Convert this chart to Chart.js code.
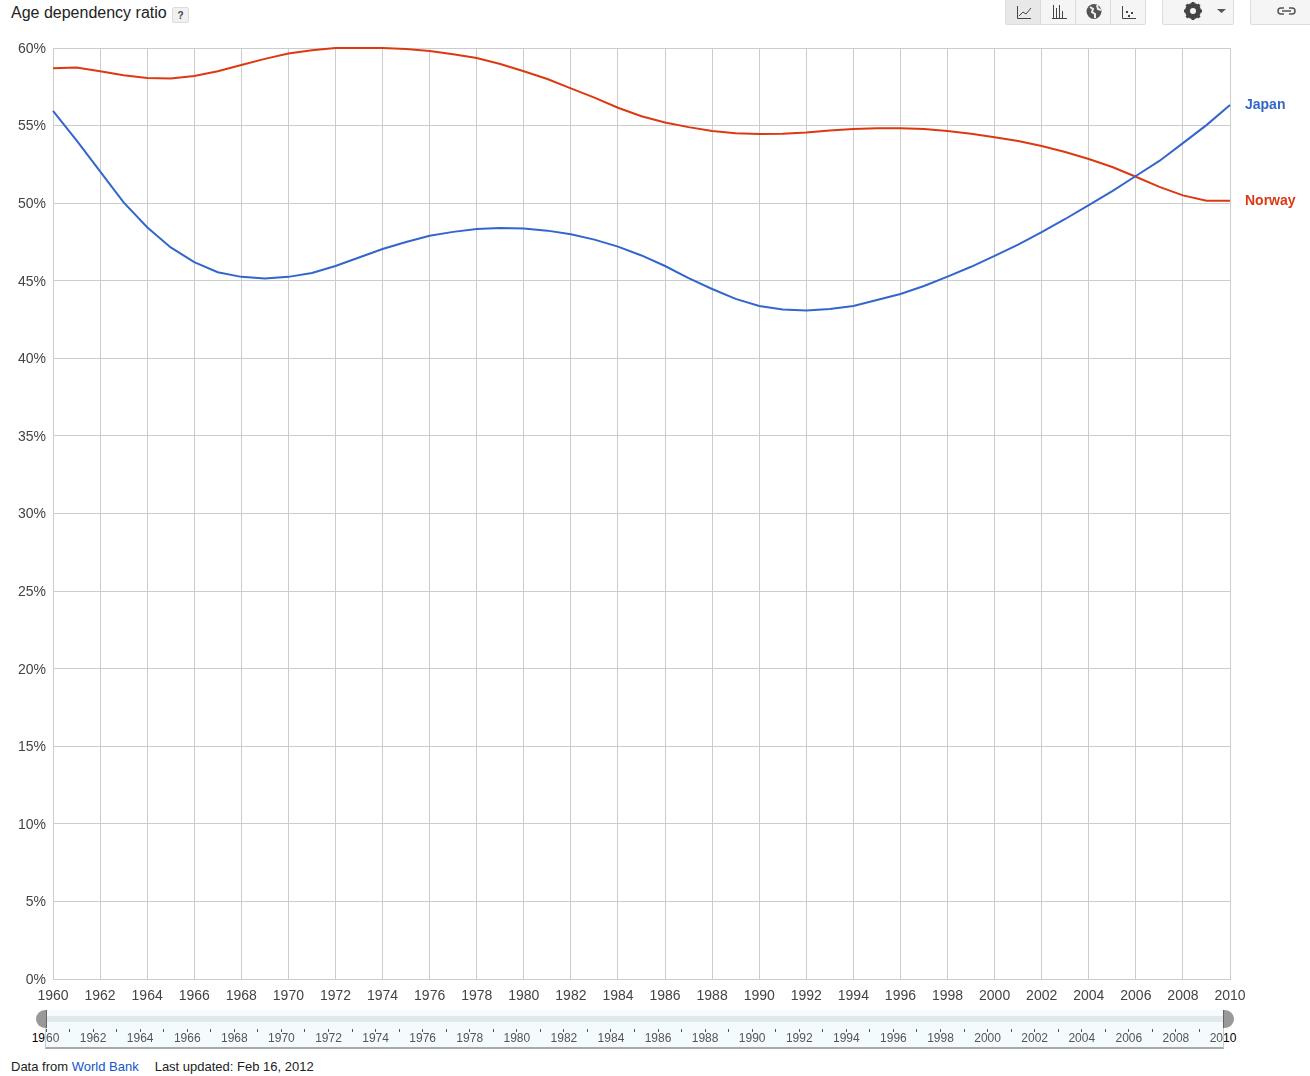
<!DOCTYPE html>
<html>
<head>
<meta charset="utf-8">
<title>Age dependency ratio</title>
<script src="https://cdn.jsdelivr.net/npm/chart.js@4"></script>
<style>
html, body { margin: 0; padding: 0; background: #fff; overflow: hidden; }
body { width: 1310px; height: 1076px; position: relative; font-family: "Liberation Sans", Arial, sans-serif; }
canvas { position: absolute; display: block; }
.abs { position: absolute; white-space: nowrap; }
#title { left: 11px; top: 3px; font-size: 16px; line-height: 19px; color: #222; }
#help { left: 172px; top: 7px; width: 15px; height: 14px; border: 1px solid #dcdcdc; border-radius: 2px; background: #f1f1f1;
	font-size: 10px; font-weight: bold; line-height: 15px; text-align: center; color: #444; }
.btn { position: absolute; top: -1px; height: 24px; background: #f5f5f5; border: 1px solid #dcdcdc; border-radius: 0 0 2px 2px; box-sizing: content-box; }
.btn svg { position: absolute; left: 0; top: 0; }
#footer { left: 11px; top: 1059px; font-size: 13px; line-height: 15px; color: #222; }
#footer a { color: #15c; text-decoration: none; }
#footer .gap { margin-left: 16px; }
#slider_bg { left: 46px; top: 1010px; width: 1177px; height: 37px; background: #f3fbfd; border-bottom: 2px solid #aaa; border-left: 1px solid #ccc; border-right: 1px solid #ccc; box-sizing: content-box; margin-left: -1px; }
#slider_band { left: 46px; top: 1016px; width: 1177px; height: 6px; background: #e0e8ea; }
.handle { position: absolute; top: 1010px; width: 10px; height: 18px; background: #999; }
#handle_l { left: 36px; border-radius: 9px 0 0 9px; border-right: 1px solid #666; }
#handle_r { left: 1223px; border-radius: 0 9px 9px 0; border-left: 1px solid #666; }
.edge { top: 1031px; font-size: 12px; line-height: 14px; color: #000; width: 40px; text-align: center; }
</style>
</head>
<body>
<div id="title" class="abs">Age dependency ratio</div>
<div id="help" class="abs">?</div>

<div class="btn" style="left:1005px;width:139px;">
	<div style="position:absolute;left:0;top:0;width:34px;height:24px;background:#e8e8e8;border-right:1px solid #dcdcdc;"></div>
	<div style="position:absolute;left:69px;top:0;width:1px;height:24px;background:#dcdcdc;"></div>
	<div style="position:absolute;left:104px;top:0;width:1px;height:24px;background:#dcdcdc;"></div>
	<svg width="139" height="24" fill="none" stroke="#444" stroke-width="1">
		<path d="M11.5 6v12.5H25M13 16l4-4 3 2 5-6"/>
		<path d="M47.5 5v13M50.5 8v10M53.500 5v13M56.500 11v7M46 18.500h15"/>
		<circle cx="88" cy="11.500" r="7.500" fill="#555" stroke="none"/>
		<path d="M84 7l3 2-1 3 3 2 0 4M91 5l1 4 3 1" stroke="#eee" stroke-width="2"/>
		<path d="M116.500 6v12.500H130"/>
		<path d="M120 11h2v2h-2zM125 12h2v2h-2zM122 15h2v2h-2z" fill="#444" stroke="none"/>
	</svg>
</div>
<div class="btn" style="left:1162px;width:70px;">
	<svg width="70" height="24">
		<circle cx="30" cy="11" r="6" fill="none" stroke="#444" stroke-width="4"/>
		<path d="M30 2v18M21 11h18M23.500 4.500l13 13M36.500 4.500l-13 13" stroke="#444" stroke-width="3"/>
		<circle cx="30" cy="11" r="3" fill="#f5f5f5"/>
		<path d="M54 9h9l-4.500 4z" fill="#555"/>
	</svg>
</div>
<div class="btn" style="left:1250px;width:62px;">
	<svg width="62" height="24" fill="none" stroke="#555" stroke-width="1.500">
		<path d="M33 8h-3a3 3 0 0 0 0 6h3M38 8h3a3 3 0 0 1 0 6h-3M31 11h9"/>
	</svg>
</div>

<canvas id="chart1" width="1310" height="1005" style="left:0;top:0;"></canvas>

<div id="edge_l" class="abs edge" style="left:25px;">1960</div>
<div id="edge_r" class="abs edge" style="left:1203px;">2010</div>
<div id="slider_bg" class="abs"></div>
<div id="slider_band" class="abs"></div>
<canvas id="chart2" width="1310" height="30" style="left:0;top:1025px;clip-path:inset(0 87px 0 46px);"></canvas>
<div id="handle_l" class="handle"></div>
<div id="handle_r" class="handle"></div>

<div id="footer" class="abs">Data from <a href="#">World Bank</a><span class="gap">Last updated: Feb 16, 2012</span></div>

<script>
const years = [];
for(let y=1960; y<=2010; y++) years.push(y);

// values, one per year from 1960 to 2010
const japan_values = [
	55.95, 54.05, 52.05, 50.05, 48.45, 47.15, 46.2, 45.55, 45.25, 45.15,
	45.25, 45.5, 45.95, 46.5, 47.05, 47.5, 47.9, 48.15, 48.33, 48.4,
	48.37, 48.23, 48.0, 47.65, 47.2, 46.63, 45.95, 45.17, 44.47, 43.83,
	43.37, 43.15, 43.08, 43.18, 43.37, 43.76, 44.15, 44.66, 45.27, 45.9,
	46.6, 47.33, 48.14, 48.98, 49.88, 50.78, 51.75, 52.72, 53.87, 55.03,
	56.33
];
const norway_values = [
	58.7, 58.75, 58.5, 58.25, 58.07, 58.03, 58.2, 58.5, 58.9, 59.3,
	59.65, 59.85, 60.0, 60.0, 60.0, 59.93, 59.8, 59.6, 59.35, 58.97,
	58.5, 58.0, 57.4, 56.8, 56.15, 55.6, 55.2, 54.9, 54.65, 54.5,
	54.45, 54.47, 54.55, 54.68, 54.78, 54.83, 54.83, 54.78, 54.65, 54.47,
	54.25, 54.0, 53.68, 53.3, 52.85, 52.33, 51.7, 51.05, 50.5, 50.15,
	50.15
];
const series_names = ['Japan', 'Norway'];
const series_colors = ['#3366cc', '#dc3912'];

function to_points(values) {
	return values.map(function(v, i) { return {x: years[i], y: v}; });
}

// names at the right end of each line
const end_labels = {
	id: 'end_labels',
	afterDatasetsDraw: function(chart) {
		const ctx = chart.ctx;
		ctx.save();
		ctx.font = 'bold 14px "Liberation Sans"';
		ctx.textBaseline = 'middle';
		chart.data.datasets.forEach(function(ds) {
			const last = ds.data[ds.data.length-1];
			ctx.fillStyle = ds.borderColor;
			ctx.fillText(ds.label, chart.chartArea.right + 15, chart.scales.y.getPixelForValue(last.y));
		});
		ctx.restore();
	}
};

// y tick labels sit 1px lower than the gridline centre
const nudge_y_labels = {
	id: 'nudge_y_labels',
	afterLayout: function(chart) {
		chart.scales.y.getLabelItems(chart.chartArea).forEach(function(item) {
			item.options.translation[1] += 1;
		});
	}
};

const myChart = new Chart('chart1', {
	type: 'line',
	data: {
		datasets: [
		{
			label: series_names[0],
			data: to_points(japan_values),
			borderColor: series_colors[0],
			borderWidth: 2,
			fill: false,
			clip: false
		},
		{
			label: series_names[1],
			data: to_points(norway_values),
			borderColor: series_colors[1],
			borderWidth: 2,
			fill: false,
			clip: false
		}]
	},
	options: {
		responsive: false,
		animation: false,
		elements: { point: { radius: 0 } },
		layout: { padding: { top: 48, right: 80, left: 0, bottom: 0 } },
		scales: {
			x: {
				type: 'linear',
				min: 1960,
				max: 2010,
				afterFit: function(scale) { scale.height = 26; },
				border: { color: '#ccc' },
				grid: { color: '#ccc', drawTicks: false },
				ticks: {
					stepSize: 2,
					maxRotation: 0,
					padding: 9,
					color: '#444',
					font: { family: 'Liberation Sans', size: 14 },
					callback: function(value) { return '' + value; }
				}
			},
			y: {
				min: 0,
				max: 60,
				afterFit: function(scale) { scale.width = 53; },
				border: { color: '#ccc' },
				grid: { color: '#ccc', drawTicks: false },
				ticks: {
					stepSize: 5,
					padding: 7,
					color: '#444',
					font: { family: 'Liberation Sans', size: 14 },
					callback: function(value) { return value + '%'; }
				}
			}
		},
		plugins: {
			legend: { display: false },
			tooltip: { enabled: false }
		}
	},
	plugins: [nudge_y_labels, end_labels]
});

// range slider axis under the chart
const sliderChart = new Chart('chart2', {
	type: 'line',
	data: { datasets: [{ data: [] }] },
	options: {
		responsive: false,
		animation: false,
		layout: { padding: { left: 0, right: 87, top: 0, bottom: 0 } },
		scales: {
			x: {
				type: 'linear',
				min: 1960,
				max: 2010,
				afterFit: function(scale) { scale.height = 26; },
				border: { display: false },
				grid: { drawOnChartArea: false, color: '#555', tickLength: 3 },
				ticks: {
					stepSize: 1,
					autoSkip: false,
					maxRotation: 0,
					padding: -1,
					color: '#555',
					font: { family: 'Liberation Sans', size: 12 },
					callback: function(value) { return value % 2 == 0 ? '' + value : ''; }
				}
			},
			y: {
				display: true,
				afterFit: function(scale) { scale.width = 46; },
				border: { display: false },
				grid: { display: false },
				ticks: { display: false }
			}
		},
		plugins: {
			legend: { display: false },
			tooltip: { enabled: false }
		}
	}
});
</script>
</body>
</html>
